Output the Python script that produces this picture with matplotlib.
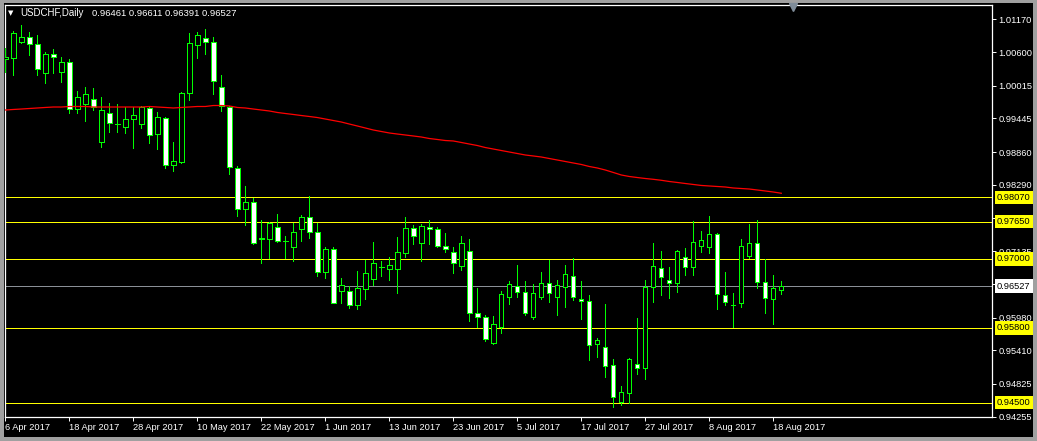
import matplotlib
matplotlib.use('Agg')
import matplotlib.pyplot as plt
from matplotlib.transforms import blended_transform_factory
from matplotlib.lines import Line2D
from matplotlib.patches import Rectangle

plt.rcParams['font.family'] = ['Liberation Sans', 'DejaVu Sans']

symbol = "USDCHF,Daily"
last_ohlc = "0.96461 0.96611 0.96391 0.96527"

date_labels = ["6 Apr 2017", "18 Apr 2017", "28 Apr 2017", "10 May 2017", "22 May 2017",
               "1 Jun 2017", "13 Jun 2017", "23 Jun 2017", "5 Jul 2017", "17 Jul 2017",
               "27 Jul 2017", "8 Aug 2017", "18 Aug 2017"]
date_idx = [0, 8, 16, 24, 32, 40, 48, 56, 64, 72, 80, 88, 96]

opens = [1.00479, 1.00497, 1.00775, 1.00862, 1.00740, 1.00236, 1.00566, 1.00253, 1.00427, 0.99609,
         0.99696, 0.99783, 0.99035, 0.99540, 0.99349, 0.99296, 0.99435, 0.99349, 0.99627, 0.99174,
         0.99453, 0.98635, 0.98687, 0.99888, 1.00723, 1.00845, 1.00775, 0.99992, 0.99644, 0.98583,
         0.97869, 0.97991, 0.97347, 0.97347, 0.97556, 0.97313, 0.97208, 0.97521, 0.97730, 0.97469,
         0.96773, 0.97173, 0.96443, 0.96443, 0.96199, 0.96477, 0.96651, 0.96860, 0.96825, 0.96825,
         0.97104, 0.97539, 0.97278, 0.97556, 0.97521, 0.97226, 0.97121, 0.96878, 0.97139, 0.96060,
         0.95990, 0.95538, 0.95816, 0.96338, 0.96530, 0.96425, 0.95990, 0.96338, 0.96582, 0.96338,
         0.96512, 0.96704, 0.96303, 0.96269, 0.95520, 0.95468, 0.95155, 0.94511, 0.94668, 0.95172,
         0.95103, 0.96512, 0.96843, 0.96634, 0.96582, 0.97034, 0.96860, 0.97226, 0.97208, 0.97434,
         0.96373, 0.96199, 0.96234, 0.97052, 0.97278, 0.96599, 0.96303, 0.96461]
highs = [1.00671, 1.00967, 1.01071, 1.00949, 1.00897, 1.00601, 1.00653, 1.00514, 1.00479, 0.99923,
         0.99992, 0.99975, 0.99818, 0.99714, 0.99696, 0.99644, 0.99644, 0.99662, 0.99644, 0.99557,
         0.99470, 0.99035, 0.99905, 1.00932, 1.00949, 1.01001, 1.00862, 1.00201, 0.99662, 0.98618,
         0.98270, 0.98061, 0.97678, 0.97643, 0.97782, 0.97400, 0.97626, 0.97765, 0.98096, 0.97626,
         0.97208, 0.97208, 0.96669, 0.96530, 0.96791, 0.96982, 0.97295, 0.96965, 0.97034, 0.97382,
         0.97730, 0.97591, 0.97608, 0.97678, 0.97556, 0.97452, 0.97208, 0.97400, 0.97347, 0.96495,
         0.96025, 0.96008, 0.96443, 0.96617, 0.96895, 0.96617, 0.96564, 0.96773, 0.96982, 0.96634,
         0.96895, 0.97017, 0.96617, 0.96373, 0.95625, 0.96216, 0.95259, 0.94790, 0.95277, 0.95973,
         0.96634, 0.97278, 0.97139, 0.96860, 0.97156, 0.97191, 0.97661, 0.97487, 0.97748, 0.97452,
         0.96773, 0.96408, 0.97347, 0.97608, 0.97678, 0.97000, 0.96721, 0.96611]
lows = [1.00253, 1.00201, 1.00758, 1.00549, 1.00201, 1.00062, 1.00236, 1.00079, 0.99540, 0.99540,
        0.99401, 0.99592, 0.98948, 0.99209, 0.99209, 0.99192, 0.98931, 0.99279, 0.99018, 0.98913,
        0.98583, 0.98531, 0.98670, 0.99766, 1.00497, 1.00566, 0.99870, 0.99575, 0.98478, 0.97748,
        0.97591, 0.97260, 0.96930, 0.97017, 0.97295, 0.97017, 0.96965, 0.97313, 0.97365, 0.96704,
        0.96669, 0.96225, 0.96234, 0.96147, 0.96129, 0.96303, 0.96547, 0.96704, 0.96634, 0.96408,
        0.97034, 0.97260, 0.96965, 0.97260, 0.97208, 0.97121, 0.96756, 0.96808, 0.95921, 0.95816,
        0.95573, 0.95520, 0.95712, 0.96216, 0.96338, 0.96025, 0.95955, 0.96303, 0.96251, 0.96025,
        0.96164, 0.96286, 0.95955, 0.95242, 0.95294, 0.94946, 0.94424, 0.94459, 0.94494, 0.94998,
        0.94911, 0.96251, 0.96373, 0.96321, 0.96425, 0.96721, 0.96721, 0.97121, 0.97104, 0.96129,
        0.96199, 0.95816, 0.96164, 0.97017, 0.96495, 0.96060, 0.95868, 0.96391]
closes = [1.00514, 1.00932, 1.00862, 1.00740, 1.00305, 1.00566, 1.00514, 1.00427, 0.99609, 0.99818,
          0.99870, 0.99644, 0.99592, 0.99366, 0.99352, 0.99435, 0.99505, 0.99644, 0.99157, 0.99470,
          0.98635, 0.98705, 0.99888, 1.00758, 1.00897, 1.00775, 1.00097, 0.99662, 0.98600, 0.97869,
          0.97991, 0.97278, 0.97356, 0.97626, 0.97313, 0.97310, 0.97469, 0.97730, 0.97469, 0.96773,
          0.97173, 0.96234, 0.96547, 0.96199, 0.96495, 0.96756, 0.96930, 0.96855, 0.96895, 0.97121,
          0.97539, 0.97400, 0.97574, 0.97521, 0.97226, 0.97173, 0.96930, 0.97278, 0.96060, 0.95990,
          0.95607, 0.95868, 0.96390, 0.96564, 0.96425, 0.96060, 0.96408, 0.96582, 0.96408, 0.96547,
          0.96738, 0.96338, 0.96269, 0.95503, 0.95590, 0.95138, 0.94598, 0.94685, 0.95259, 0.95103,
          0.96512, 0.96878, 0.96686, 0.96582, 0.97139, 0.96860, 0.97295, 0.97330, 0.97434, 0.96390,
          0.96251, 0.96195, 0.97226, 0.97278, 0.96599, 0.96321, 0.96495, 0.96527]

ma_values = [0.99592, 0.99601, 0.99609, 0.99618, 0.99627, 0.99636, 0.99644, 0.99644, 0.99653, 0.99653,
             0.99653, 0.99644, 0.99644, 0.99644, 0.99644, 0.99644, 0.99644, 0.99644, 0.99653, 0.99644,
             0.99636, 0.99627, 0.99636, 0.99644, 0.99653, 0.99653, 0.99670, 0.99670, 0.99662, 0.99636,
             0.99627, 0.99609, 0.99592, 0.99575, 0.99549, 0.99531, 0.99514, 0.99496, 0.99479, 0.99461,
             0.99435, 0.99409, 0.99383, 0.99348, 0.99314, 0.99279, 0.99244, 0.99218, 0.99192, 0.99174,
             0.99157, 0.99140, 0.99122, 0.99096, 0.99079, 0.99061, 0.99053, 0.99027, 0.99000, 0.98974,
             0.98939, 0.98913, 0.98887, 0.98861, 0.98835, 0.98809, 0.98792, 0.98774, 0.98748, 0.98722,
             0.98696, 0.98670, 0.98644, 0.98609, 0.98583, 0.98548, 0.98505, 0.98461, 0.98435, 0.98417,
             0.98400, 0.98386, 0.98369, 0.98348, 0.98331, 0.98313, 0.98296, 0.98279, 0.98270, 0.98261,
             0.98252, 0.98235, 0.98226, 0.98217, 0.98200, 0.98183, 0.98165, 0.98143]

levels = [0.98070, 0.97650, 0.97000, 0.95800, 0.94500]
bid = 0.96527
price_ticks = [1.01170, 1.00600, 1.00015, 0.99445, 0.98860, 0.98290, 0.97720, 0.97135,
               0.96565, 0.95980, 0.95410, 0.94825, 0.94255]

W, H = 1037, 441
fig = plt.figure(figsize=(W / 100, H / 100), dpi=100, facecolor='black')

# window frame
for (x0, y0, w, h) in [(0, 0, 4, H), (0, H - 3, W, 3), (W - 4, 0, 4, H), (0, 0, W, 4)]:
    fig.patches.append(Rectangle((x0 / W, y0 / H), w / W, h / H, transform=fig.transFigure,
                                 facecolor='#a0a0a0', edgecolor='none', zorder=0))

ax = fig.add_axes([5 / W, (H - 417) / H, 987 / W, 412 / H])
ax.set_facecolor('black')
ax.set_xlim(-0.04, 123.34)
ax.set_ylim(0.94250, 1.01419)

GREEN = '#00ff00'
LW = 0.6
n = len(opens)
xs = list(range(n))
ax.vlines(xs, lows, highs, color=GREEN, lw=LW, zorder=3, antialiased=False)
body_bottom = [min(o, c) for o, c in zip(opens, closes)]
body_h = [max(abs(c - o), 0.00001) for o, c in zip(opens, closes)]
face = ['black' if c > o else 'white' for o, c in zip(opens, closes)]
ax.bar(xs, body_h, bottom=body_bottom, width=0.55, color=face, edgecolor=GREEN, lw=LW,
       zorder=4, antialiased=False)

ax.plot(xs, ma_values, color='#ff0000', lw=0.9, zorder=5)

for lv in levels:
    ax.axhline(lv, color='#ffff00', lw=LW, zorder=2, antialiased=False)
ax.axhline(bid, color='#8a8f96', lw=LW, zorder=2, antialiased=False)

for s in ax.spines.values():
    s.set_color('white')
    s.set_linewidth(0.9)

ax.yaxis.tick_right()
ax.set_yticks(price_ticks)
ax.set_yticklabels([f"{p:.5f}" for p in price_ticks])
ax.tick_params(axis='y', colors='white', labelcolor='white', direction='out', length=3,
               width=0.7, pad=1.5, labelsize=6.7)
ax.set_xticks(date_idx)
ax.set_xticklabels(date_labels)
ax.tick_params(axis='x', colors='white', labelcolor='white', direction='out', length=3,
               width=0.7, pad=1.5, labelsize=6.7)
for lab in ax.get_xticklabels():
    lab.set_horizontalalignment('left')

tr = blended_transform_factory(ax.transAxes, ax.transData)
lx = (997 - 5) / 987
for lv in levels:
    ax.text(lx, lv, f"{lv:.5f}", transform=tr, ha='left', va='center', fontsize=6.7,
            color='black', clip_on=False, zorder=10,
            bbox=dict(boxstyle='square,pad=0.25', facecolor='#ffff00', edgecolor='none'))
ax.text(lx, bid, f"{bid:.5f}", transform=tr, ha='left', va='center', fontsize=6.7,
        color='black', clip_on=False, zorder=10,
        bbox=dict(boxstyle='square,pad=0.25', facecolor='white', edgecolor='none'))

# header
fig.text(8 / W, 1 - 13.5 / H, "▼", fontsize=5, color='white', ha='left', va='center',
         family=['DejaVu Sans'])
fig.text(20 / W, 1 - 13 / H, symbol, fontsize=7, color='white', ha='left', va='center')
fig.text(91.5 / W, 1 - 13 / H, last_ohlc, fontsize=6.8, color='white', ha='left', va='center')

# chart shift marker
fig.add_artist(Line2D([793 / W], [1 - 7 / H], marker='v', markersize=6, color='#7f8c99',
                      transform=fig.transFigure, linestyle='none'))

fig.savefig('out.png', dpi=100, facecolor='black')
